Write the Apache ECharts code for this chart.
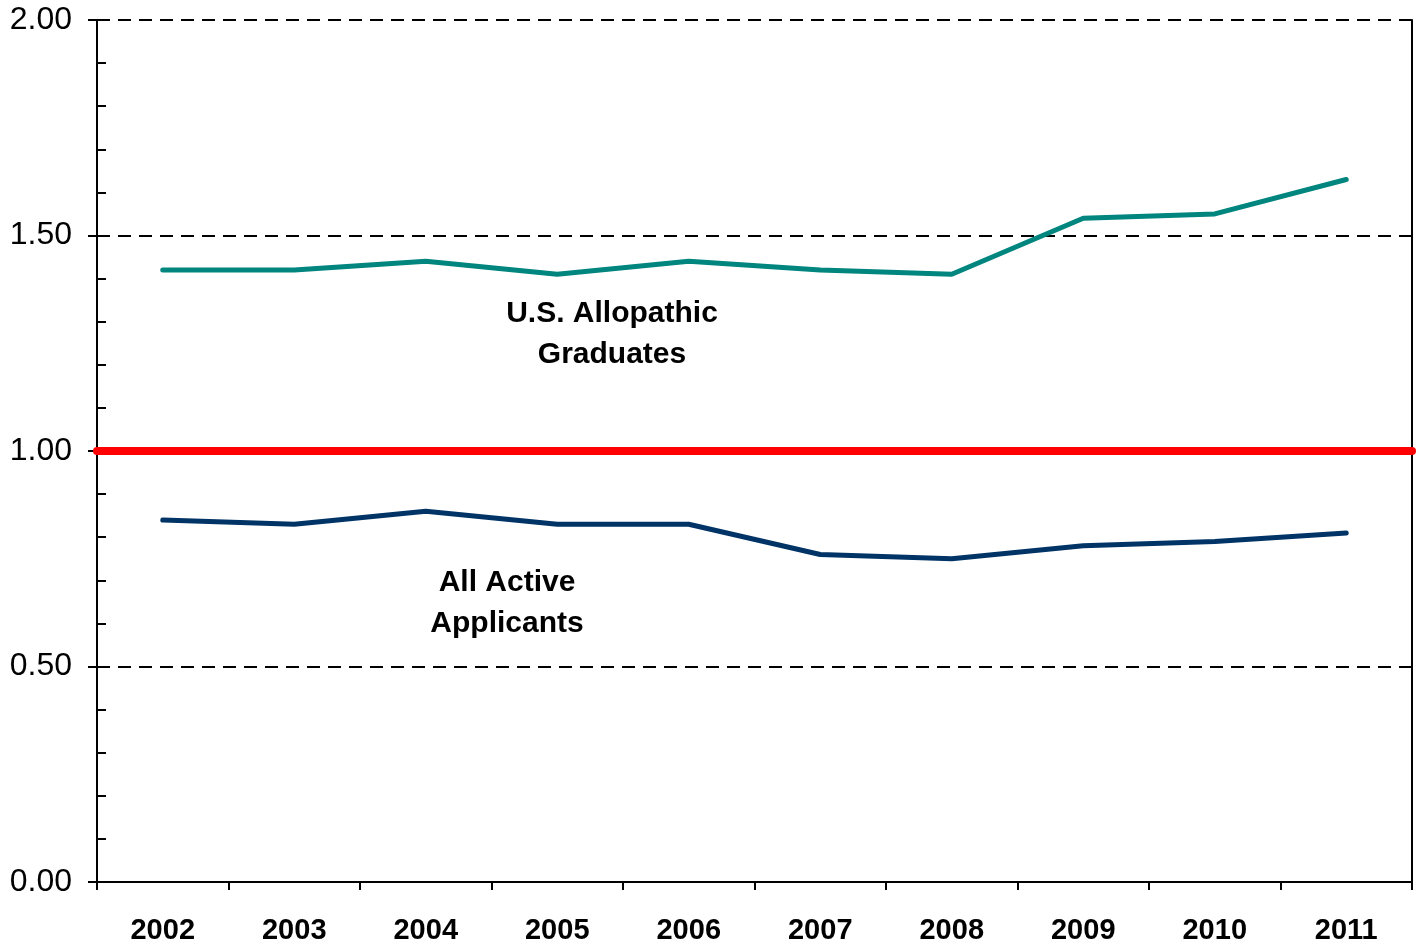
<!DOCTYPE html>
<html>
<head>
<meta charset="utf-8">
<script src="https://cdn.jsdelivr.net/npm/echarts@6/dist/echarts.min.js"></script>
<style>
  html, body { margin: 0; padding: 0; background: #fff; }
  #chart { width: 1416px; height: 945px; }
</style>
</head>
<body>
<div id="chart"></div>
<script>
// categories and values
const years = ['2002', '2003', '2004', '2005', '2006', '2007', '2008', '2009', '2010', '2011']
const graduates = [1.42, 1.42, 1.44, 1.41, 1.44, 1.42, 1.41, 1.54, 1.55, 1.63]
const applicants = [0.84, 0.83, 0.86, 0.83, 0.83, 0.76, 0.75, 0.78, 0.79, 0.81]
const parityValue = 1.0

const chart = echarts.init(document.getElementById('chart'))

const labelFont = '"Liberation Sans", Arial, sans-serif'

const option = {
  animation: false,
  grid: { left: 97, right: 4, top: 20, bottom: 63, containLabel: false },
  xAxis: {
    type: 'category',
    data: years,
    boundaryGap: true,
    axisLine: { show: true, lineStyle: { color: '#000', width: 2 } },
    axisTick: { show: true, inside: false, length: 8, lineStyle: { color: '#000', width: 2 } },
    axisLabel: { color: '#000', fontFamily: labelFont, fontSize: 29, fontWeight: 'bold', margin: 34 },
    splitLine: { show: false }
  },
  yAxis: [
    {
      type: 'value',
      min: 0,
      max: 2,
      interval: 0.5,
      position: 'left',
      axisLine: { show: true, lineStyle: { color: '#000', width: 2 } },
      axisTick: { show: true, inside: false, length: 9, lineStyle: { color: '#000', width: 2 } },
      axisLabel: {
        color: '#000', fontFamily: labelFont, fontSize: 32, margin: 25,
        formatter: v => v.toFixed(2)
      },
      splitLine: { show: true, lineStyle: { color: '#000', width: 2, type: [13, 8] } }
    },
    {
      // minor ticks, drawn inside the plot
      type: 'value',
      min: 0,
      max: 2,
      interval: 0.1,
      position: 'left',
      offset: 0,
      axisLine: { show: false },
      axisTick: { show: true, inside: true, length: 9, lineStyle: { color: '#000', width: 2 } },
      axisLabel: { show: false },
      splitLine: { show: false }
    },
    {
      // right border of the plot
      type: 'value',
      min: 0,
      max: 2,
      position: 'right',
      axisLine: { show: true, lineStyle: { color: '#000', width: 2 } },
      axisTick: { show: false },
      axisLabel: { show: false },
      splitLine: { show: false }
    }
  ],
  series: [
    {
      name: 'U.S. Allopathic Graduates',
      type: 'line',
      data: graduates,
      symbol: 'none',
      lineStyle: { color: '#00857F', width: 5, cap: 'round' },
      z: 3
    },
    {
      name: 'All Active Applicants',
      type: 'line',
      data: applicants,
      symbol: 'none',
      lineStyle: { color: '#003366', width: 5, cap: 'round' },
      z: 3,
      markLine: {
        silent: true,
        symbol: 'none',
        label: { show: false },
        lineStyle: { color: '#FF0000', width: 8, type: 'solid', cap: 'round' },
        data: [{ yAxis: parityValue }]
      }
    }
  ],
  graphic: [
    {
      type: 'text',
      x: 612,
      y: 334,
      style: {
        text: 'U.S. Allopathic\nGraduates',
        font: 'bold 30px ' + labelFont,
        fill: '#000',
        align: 'center',
        verticalAlign: 'middle',
        lineHeight: 41
      }
    },
    {
      type: 'text',
      x: 507,
      y: 603,
      style: {
        text: 'All Active\nApplicants',
        font: 'bold 30px ' + labelFont,
        fill: '#000',
        align: 'center',
        verticalAlign: 'middle',
        lineHeight: 41
      }
    }
  ]
}

chart.setOption(option)
</script>
</body>
</html>
